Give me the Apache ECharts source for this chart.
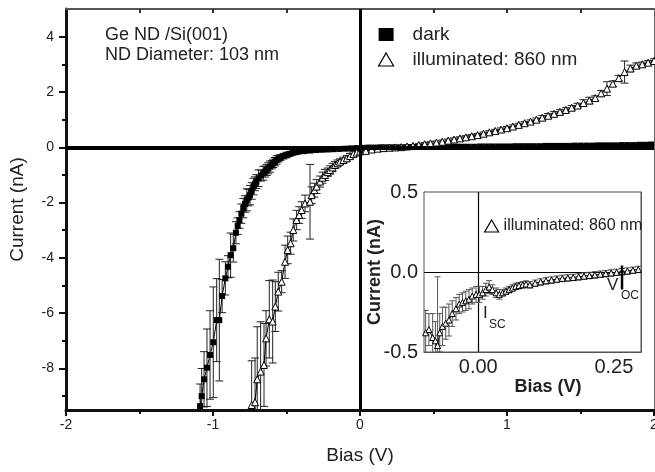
<!DOCTYPE html>
<html><head><meta charset="utf-8">
<script src="https://cdn.jsdelivr.net/npm/echarts@6/dist/echarts.min.js"></script>
<style>html,body{margin:0;padding:0;background:#fff}#c{width:655px;height:472px}</style>
</head><body><div id="c"></div>
<script>
// ---- data ----
const darkBias = [-1.088,-1.077,-1.061,-1.041,-1.020,-0.998,-0.975,-0.957,-0.938,-0.916,
 -0.898,-0.880,-0.862,-0.844,-0.832,-0.820,-0.807,-0.794,-0.782,-0.770,
 -0.759,-0.748,-0.737,-0.725,-0.715,-0.705,-0.690,-0.674,-0.658,-0.646,
 -0.635,-0.624,-0.612,-0.600,-0.590,-0.578,-0.567,-0.554,-0.540,-0.520,
 -0.500,-0.480,-0.460,-0.440,-0.420,
 -0.38,-0.34,-0.30,-0.26,-0.22,-0.18,-0.14,-0.10,-0.06,-0.02,
 0.02,0.06,0.10,0.14,0.18,0.22,0.26,0.30,0.34,0.38,
 0.42,0.46,0.50,0.54,0.58,0.62,0.66,0.70,0.74,0.78,
 0.82,0.86,0.90,0.94,0.98,1.02,1.06,1.10,1.14,1.18,
 1.22,1.26,1.30,1.34,1.38,1.42,1.46,1.50,1.54,1.58,
 1.62,1.66,1.70,1.74,1.78,1.82,1.86,1.90,1.94,1.98];
const darkCurrent = [-9.36,-9.00,-8.39,-7.97,-7.51,-7.05,-6.25,-6.25,-5.38,-4.74,
 -4.32,-3.90,-3.65,-3.09,-2.85,-2.63,-2.40,-2.20,-2.05,-1.90,
 -1.82,-1.73,-1.58,-1.42,-1.32,-1.24,-1.12,-1.02,-0.94,-0.88,
 -0.82,-0.76,-0.70,-0.63,-0.58,-0.52,-0.46,-0.41,-0.37,-0.32,
 -0.28,-0.24,-0.21,-0.18,-0.16,
 -0.14,-0.12,-0.10,-0.09,-0.08,-0.07,-0.06,-0.05,-0.04,-0.03,
 -0.02,-0.01,-0.01,0.00,0.00,0.00,0.00,0.00,0.01,0.01,
 0.01,0.01,0.01,0.01,0.02,0.02,0.02,0.02,0.02,0.02,
 0.03,0.03,0.03,0.03,0.03,0.03,0.04,0.04,0.04,0.04,
 0.04,0.05,0.05,0.05,0.05,0.05,0.06,0.06,0.06,0.06,
 0.07,0.07,0.07,0.07,0.08,0.08,0.08,0.09,0.09,0.10];
const darkErr = [0.8,1.0,1.0,1.4,1.6,2.0,1.5,2.2,0.6,0.6,
 0.4,0.8,0.5,0.4,0.3,0.3,0.35,0.35,0.3,0.4,
 0.3,0.35,0.3,0.3,0.25,0.25,0.3,0.2,0.25,0.2,
 0.2,0.2,0.2,0.15,0.15,0.15,0.15,0.12,0.1,0.1,
 0.1,0.08,0.06,0.05,0.05,
 0.05,0.04,0.04,0.04,0.04,0.03,0.03,0.03,0.03,0.03,
 0.03,0.03,0.03,0.03,0.03,0.03,0.03,0.03,0.03,0.03,
 0.03,0.03,0.03,0.03,0.03,0.03,0.03,0.03,0.03,0.03,
 0.03,0.03,0.03,0.03,0.03,0.03,0.03,0.03,0.03,0.03,
 0.03,0.03,0.03,0.03,0.03,0.03,0.03,0.03,0.03,0.03,
 0.03,0.03,0.03,0.03,0.03,0.03,0.03,0.03,0.03,0.03];

const illumBias = [-0.737,-0.714,-0.699,-0.676,-0.653,-0.639,-0.617,-0.594,-0.576,-0.556,
 -0.533,-0.510,-0.492,-0.472,-0.454,-0.431,-0.414,-0.397,-0.374,-0.340,
 -0.329,-0.310,-0.295,-0.272,-0.255,-0.238,-0.220,-0.204,-0.187,-0.170,
 -0.153,-0.136,-0.113,-0.090,-0.068,-0.045,-0.022,0.000,
 0.04,0.08,0.12,0.16,0.20,0.24,0.28,0.32,0.36,0.40,
 0.44,0.48,0.52,0.56,0.60,0.64,0.68,0.72,0.76,0.80,
 0.84,0.88,0.92,0.96,1.00,1.04,1.08,1.12,1.16,1.20,
 1.24,1.28,1.32,1.36,1.40,1.44,1.48,1.52,1.56,1.60,
 1.64,1.68,1.72,1.76,1.80,1.84,1.88,1.92,1.96,2.00];
const illumCurrent = [-9.32,-9.22,-8.39,-8.11,-7.87,-6.91,-6.22,-6.30,-5.76,-5.22,
 -4.86,-4.14,-3.71,-3.47,-2.99,-2.63,-2.45,-2.27,-2.03,-1.97,
 -1.73,-1.55,-1.42,-1.24,-1.10,-1.00,-0.90,-0.82,-0.73,-0.64,
 -0.58,-0.52,-0.46,-0.40,-0.32,-0.24,-0.19,-0.15,
 -0.13,-0.08,-0.05,-0.03,-0.015,-0.005,0.005,0.03,0.05,0.08,
 0.11,0.14,0.17,0.20,0.24,0.28,0.32,0.36,0.40,0.44,
 0.49,0.54,0.59,0.64,0.69,0.75,0.81,0.87,0.93,1.00,
 1.07,1.14,1.21,1.28,1.35,1.43,1.51,1.60,1.69,1.78,
 1.95,2.12,2.30,2.50,2.72,2.85,2.95,3.00,3.06,3.12];
const illumErr = [1.6,1.6,1.9,1.8,1.5,1.0,1.4,1.5,0.9,0.7,
 0.4,0.6,0.5,0.4,0.4,0.35,0.3,0.3,0.3,1.35,
 0.3,0.25,0.25,0.2,0.2,0.2,0.15,0.15,0.15,0.12,
 0.12,0.1,0.1,0.1,0.1,0.08,0.06,0.05,
 0.05,0.05,0.05,0.05,0.05,0.05,0.05,0.05,0.05,0.05,
 0.06,0.06,0.06,0.06,0.06,0.06,0.06,0.06,0.06,0.06,
 0.06,0.06,0.06,0.06,0.06,0.06,0.06,0.06,0.06,0.06,
 0.08,0.08,0.08,0.08,0.08,0.08,0.08,0.12,0.12,0.08,
 0.10,0.25,0.10,0.10,0.40,0.12,0.10,0.08,0.08,0.08];

const insetBias = [-0.097,-0.091,-0.084,-0.079,-0.075,-0.071,-0.066,-0.060,-0.054,-0.048,
 -0.041,-0.035,-0.029,-0.023,-0.017,-0.011,-0.004,0.002,0.008,0.014,
 0.020,0.026,0.033,0.039,0.045,0.051,0.057,0.063,0.069,0.075,
 0.082,0.088,0.095,0.105,0.115,0.125,0.135,0.145,0.155,0.165,
 0.175,0.185,0.195,0.205,0.215,0.225,0.235,0.245,0.255,0.265,
 0.275,0.285,0.295];
const insetCurrent = [-0.38,-0.36,-0.41,-0.43,-0.46,-0.38,-0.34,-0.32,-0.30,-0.26,
 -0.23,-0.20,-0.19,-0.18,-0.17,-0.15,-0.14,-0.14,-0.13,-0.11,
 -0.094,-0.11,-0.13,-0.14,-0.13,-0.12,-0.11,-0.10,-0.09,-0.085,
 -0.08,-0.075,-0.08,-0.07,-0.062,-0.055,-0.05,-0.045,-0.04,-0.037,
 -0.034,-0.03,-0.026,-0.022,-0.018,-0.014,-0.01,-0.006,-0.002,0.002,
 0.006,0.011,0.016];
const insetErr = [0.14,0.10,0.15,0.12,0.43,0.12,0.12,0.10,0.10,0.08,
 0.07,0.06,0.06,0.06,0.06,0.05,0.05,0.05,0.04,0.04,
 0.04,0.03,0.03,0.03,0.02,0.02,0.02,0.02,0.02,0.02,
 0.02,0.02,0.02,0.02,0.02,0.02,0.02,0.02,0.02,0.02,
 0.02,0.02,0.02,0.02,0.02,0.02,0.02,0.02,0.02,0.02,
 0.02,0.02,0.02];
const vocBias = [0.265, 0.265];
const vocCurrent = [0.04, -0.11];

const mainXLabels = [-2,-1,0,1,2];
const mainXMinor = [-1.5,-0.5,0.5,1.5];
const mainYLabels = [-8,-6,-4,-2,0,2,4];
const mainYMinor = [-9,-7,-5,-3,-1,1,3];
const insetXLabels = [0,0.25];
const insetXTicks = [0,0.125,0.25];
const insetYLabels = [-0.5,0,0.5];
const insetYTicks = [-0.25,0.25];

// ---- chart ----
const FONT = '"Liberation Sans", Arial, Helvetica, sans-serif';
const TXT = '#222';
const zip3 = (a,b,c) => a.map((v,i)=>[v,b[i],c[i]]);
const zip2 = (a,b) => a.map((v,i)=>[v,b[i]]);

function errRender(color, hw){
  return function(params, api){
    const x = api.value(0), y = api.value(1), e = api.value(2);
    const t = api.coord([x, y+e]), b = api.coord([x, y-e]);
    const st = {stroke: color, lineWidth: 1, fill: null};
    return {type:'group', children:[
      {type:'line', shape:{x1:t[0],y1:t[1],x2:b[0],y2:b[1]}, style:st},
      {type:'line', shape:{x1:t[0]-hw,y1:t[1],x2:t[0]+hw,y2:t[1]}, style:st},
      {type:'line', shape:{x1:b[0]-hw,y1:b[1],x2:b[0]+hw,y2:b[1]}, style:st}
    ]};
  };
}

const chart = echarts.init(document.getElementById('c'), null, {renderer:'canvas'});
const noSplit = {show:false};
chart.setOption({
  animation:false,
  backgroundColor:'#fff',
  textStyle:{fontFamily:FONT, color:TXT},
  grid:[
    {left:66, right:1, top:9, bottom:62, containLabel:false, outerBoundsMode:'none'},
    {left:424, right:14, top:192, bottom:120, show:true, backgroundColor:'#fff', borderColor:'#555', borderWidth:1, z:5, outerBoundsMode:'none'}
  ],
  xAxis:[
    {gridIndex:0, type:'value', min:-2, max:2, position:'bottom',
     axisLine:{onZero:false, lineStyle:{color:'#111', width:3}},
     axisTick:{customValues:mainXLabels, length:6, lineStyle:{color:'#111', width:2}},
     axisLabel:{customValues:mainXLabels, fontSize:14, color:TXT, margin:8, fontFamily:FONT},
     splitLine:noSplit, name:'Bias (V)', nameLocation:'middle', nameGap:36,
     nameTextStyle:{fontSize:19, color:TXT, fontFamily:FONT}},
    {gridIndex:0, type:'value', min:-2, max:2, position:'bottom',
     axisLine:{show:false, onZero:false},
     axisTick:{customValues:mainXMinor, length:4, lineStyle:{color:'#111', width:2}},
     axisLabel:{show:false}, splitLine:noSplit},
    {gridIndex:0, type:'value', min:-2, max:2, position:'top',
     axisLine:{onZero:false, lineStyle:{color:'#555', width:2}},
     axisTick:{customValues:[-1.5,-1,-0.5,0,0.5,1,1.5], inside:true, length:4, lineStyle:{color:'#333', width:2}},
     axisLabel:{show:false}, splitLine:noSplit},
    {gridIndex:1, type:'value', min:-0.1, max:0.3, position:'bottom',
     axisLine:{onZero:false, lineStyle:{color:'#555', width:1}},
     axisTick:{customValues:insetXTicks, inside:true, length:4, lineStyle:{color:'#333'}},
     axisLabel:{customValues:insetXLabels, formatter:v=>v.toFixed(2), fontSize:20, color:TXT, margin:5, fontFamily:FONT},
     splitLine:noSplit, name:'Bias (V)', nameLocation:'middle', nameGap:20,
     nameTextStyle:{fontSize:18, fontWeight:'bold', color:TXT, fontFamily:FONT, padding:[0,0,0,31]}},
    {gridIndex:1, type:'value', min:-0.1, max:0.3, position:'top',
     axisLine:{onZero:false, lineStyle:{color:'#555', width:1}},
     axisTick:{customValues:insetXTicks, inside:true, length:4, lineStyle:{color:'#333'}},
     axisLabel:{show:false}, splitLine:noSplit}
  ],
  yAxis:[
    {gridIndex:0, type:'value', min:-9.5, max:5, position:'left',
     axisLine:{onZero:false, lineStyle:{color:'#111', width:3}},
     axisTick:{customValues:mainYLabels, length:7, lineStyle:{color:'#111', width:2}},
     axisLabel:{customValues:mainYLabels, fontSize:14, color:TXT, margin:12, fontFamily:FONT},
     splitLine:noSplit, name:'Current (nA)', nameLocation:'middle', nameGap:39,
     nameTextStyle:{fontSize:19, color:TXT, fontFamily:FONT}},
    {gridIndex:0, type:'value', min:-9.5, max:5, position:'left',
     axisLine:{show:false, onZero:false},
     axisTick:{customValues:mainYMinor, length:4, lineStyle:{color:'#111', width:2}},
     axisLabel:{show:false}, splitLine:noSplit},
    {gridIndex:0, type:'value', min:-9.5, max:5, position:'right',
     axisLine:{onZero:false, lineStyle:{color:'#666', width:1}},
     axisTick:{show:false}, axisLabel:{show:false}, splitLine:noSplit},
    {gridIndex:1, type:'value', min:-0.5, max:0.5, position:'left',
     axisLine:{onZero:false, lineStyle:{color:'#555', width:1}},
     axisTick:{customValues:insetYTicks, inside:true, length:4, lineStyle:{color:'#333'}},
     axisLabel:{customValues:insetYLabels, formatter:v=>v.toFixed(1), fontSize:20, color:TXT, margin:6, fontFamily:FONT},
     splitLine:noSplit, name:'Current (nA)', nameLocation:'middle', nameGap:40, nameMoveOverlap:false,
     nameTextStyle:{fontSize:18, fontWeight:'bold', color:TXT, fontFamily:FONT}},
    {gridIndex:1, type:'value', min:-0.5, max:0.5, position:'right',
     axisLine:{onZero:false, lineStyle:{color:'#555', width:1}},
     axisTick:{customValues:insetYTicks, inside:true, length:4, lineStyle:{color:'#333'}},
     axisLabel:{show:false}, splitLine:noSplit}
  ],
  legend:[
    {orient:'vertical', left:373, top:20, itemWidth:15, itemHeight:13, itemGap:6, selectedMode:false,
     textStyle:{fontSize:19, color:TXT, fontFamily:FONT, padding:[0,0,0,14]},
     data:[
       {name:'dark', icon:'rect', itemStyle:{color:'#000', borderWidth:0}},
       {name:'illuminated: 860 nm', icon:'triangle', itemStyle:{color:'#fff', borderColor:'#000', borderWidth:1.2}}
     ]},
    {orient:'vertical', left:479, top:213, itemWidth:14, itemHeight:12, selectedMode:false, z:10,
     textStyle:{fontSize:16, color:TXT, fontFamily:FONT, padding:[0,0,0,0]},
     data:[{name:'illuminated: 860 nm', icon:'triangle', itemStyle:{color:'#fff', borderColor:'#000', borderWidth:1.2}}]}
  ],
  graphic:[
    {type:'text', left:105, top:26, style:{text:'Ge ND /Si(001)', font:'18px '+FONT, fill:TXT}},
    {type:'text', left:105, top:46, style:{text:'ND Diameter: 103 nm', font:'18px '+FONT, fill:TXT}},
    {type:'text', left:483, top:305, z:20, style:{text:'I', font:'17px '+FONT, fill:TXT}},
    {type:'text', left:489, top:319, z:20, style:{text:'SC', font:'12px '+FONT, fill:TXT}},
    {type:'text', left:607, top:277, z:20, style:{text:'V', font:'17px '+FONT, fill:TXT}},
    {type:'text', left:621, top:290, z:20, style:{text:'OC', font:'12px '+FONT, fill:TXT}}
  ],
  series:[
    {name:'darkErr', type:'custom', xAxisIndex:0, yAxisIndex:0, clip:true, z:2,
     renderItem:errRender('#222',4), encode:{x:0,y:1}, data:zip3(darkBias,darkCurrent,darkErr)},
    {name:'illumErr', type:'custom', xAxisIndex:0, yAxisIndex:0, clip:true, z:2,
     renderItem:errRender('#222',4), encode:{x:0,y:1}, data:zip3(illumBias,illumCurrent,illumErr)},
    {name:'dark', type:'line', xAxisIndex:0, yAxisIndex:0, z:3, showAllSymbol:true,
     symbol:'rect', symbolSize:6, itemStyle:{color:'#000'}, lineStyle:{color:'#000', width:1},
     data:zip2(darkBias,darkCurrent),
     markLine:{silent:true, symbol:'none', label:{show:false},
       data:[{xAxis:0, lineStyle:{color:'#000', width:3, type:'solid'}},
             {yAxis:0, lineStyle:{color:'#000', width:4, type:'solid'}}]}},
    {name:'illuminated: 860 nm', type:'line', xAxisIndex:0, yAxisIndex:0, z:4, showAllSymbol:true,
     symbol:'triangle', symbolSize:7, itemStyle:{color:'#fff', borderColor:'#000', borderWidth:1},
     lineStyle:{color:'#000', width:1}, data:zip2(illumBias,illumCurrent)},
    {name:'insetErr', type:'custom', xAxisIndex:3, yAxisIndex:3, clip:true, z:6,
     renderItem:errRender('#555',3), encode:{x:0,y:1}, data:zip3(insetBias,insetCurrent,insetErr)},
    {name:'illuminated: 860 nm', type:'line', xAxisIndex:3, yAxisIndex:3, z:7, showAllSymbol:true,
     symbol:'triangle', symbolSize:6, itemStyle:{color:'#fff', borderColor:'#000', borderWidth:1},
     lineStyle:{color:'#000', width:1}, data:zip2(insetBias,insetCurrent),
     markLine:{silent:true, symbol:'none', label:{show:false},
       data:[{xAxis:0, lineStyle:{color:'#000', width:1.2, type:'solid'}},
             {yAxis:0, lineStyle:{color:'#000', width:1.2, type:'solid'}}]}},
    {name:'voc', type:'line', xAxisIndex:3, yAxisIndex:3, z:8, symbol:'none',
     lineStyle:{color:'#000', width:2.5}, data:zip2(vocBias,vocCurrent)}
  ]
});
</script></body></html>
